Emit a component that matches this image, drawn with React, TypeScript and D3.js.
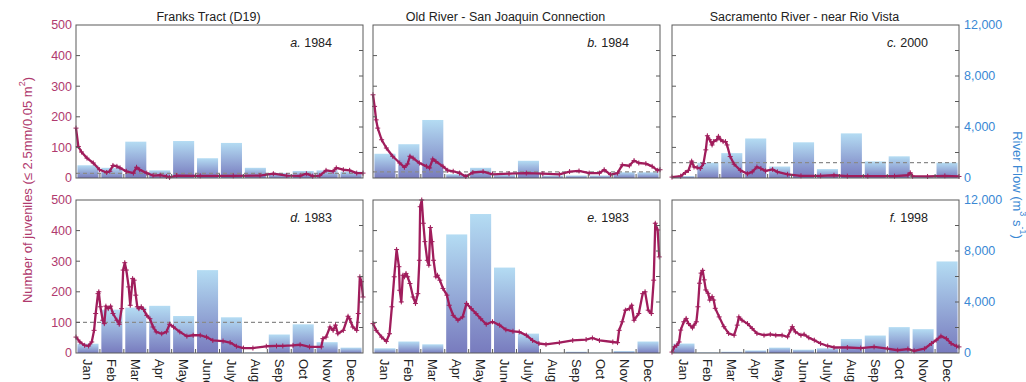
import * as d3 from 'd3';
import { useEffect, useRef } from 'react';

const months = ['Jan', 'Feb', 'Mar', 'Apr', 'May', 'June', 'July', 'Aug', 'Sept', 'Oct', 'Nov', 'Dec'];
const siteTitles = ['Franks Tract (D19)', 'Old River - San Joaquin Connection', 'Sacramento River - near Rio Vista'];
const panelLetters = ['a', 'b', 'c', 'd', 'e', 'f'];
const panelYears = ['1984', '1984', '2000', '1983', '1983', '1998'];
const juvTicks = [0, 100, 200, 300, 400, 500];
const flowTicks = [0, 4000, 8000, 12000];

// monthly river flow (m3/s)
const flowA = [1000, 800, 2850, 600, 2900, 1550, 2750, 800, 400, 550, 600, 500];
const flowB = [1900, 2650, 4550, 300, 800, 250, 1350, 200, 200, 200, 450, 450];
const flowC = [150, 1200, 1950, 3100, 900, 2800, 700, 3500, 1300, 1700, 100, 1200];
const flowD = [730, 3400, 3560, 3700, 2900, 6500, 2800, 50, 1450, 2250, 850, 420];
const flowE = [370, 900, 680, 9300, 10900, 6700, 1520, 30, 100, 30, 150, 900];
const flowF = [740, 50, 100, 200, 420, 260, 370, 1100, 1370, 2030, 1870, 7180];

// juveniles: [day of year, count]
const juvA: [number, number][] = [[0,163],[3,103],[7,85],[14,65],[22,49],[30,27],[39,18],[43,22],[47,41],[52,38],[56,33],[64,22],[73,16],[77,35],[81,27],[90,16],[98,8],[107,9],[115,5],[119,2],[128,8],[158,7],[200,7],[234,8],[251,14],[268,8],[285,7],[293,14],[301,6],[310,8],[318,25],[327,22],[331,33],[340,27],[348,25],[357,16],[365,16]];
const juvB: [number, number][] = [[0,272],[2,234],[4,190],[6,163],[11,125],[17,98],[25,71],[34,49],[40,35],[44,46],[47,71],[51,65],[59,49],[68,38],[72,33],[76,62],[80,54],[89,38],[95,25],[102,22],[110,16],[118,5],[127,18],[140,21],[152,12],[173,14],[195,16],[216,14],[237,12],[250,21],[262,23],[275,16],[288,16],[294,27],[302,11],[311,16],[317,43],[326,40],[332,57],[338,49],[347,47],[355,38],[362,25],[365,27]];
const juvC: [number, number][] = [[0,3],[11,6],[17,18],[21,25],[25,55],[28,36],[32,34],[36,31],[40,47],[43,92],[45,138],[48,125],[51,108],[53,119],[57,125],[59,136],[62,125],[65,119],[68,119],[70,108],[74,70],[79,45],[87,25],[96,14],[102,20],[108,36],[113,31],[119,23],[128,28],[134,20],[147,12],[164,7],[189,7],[206,9],[223,6],[249,6],[283,6],[300,9],[303,17],[306,6],[325,5],[347,7],[365,5]];
const juvD: [number, number][] = [[0,52],[5,36],[11,25],[16,23],[20,36],[23,74],[25,129],[28,194],[29,200],[31,151],[34,107],[36,96],[38,153],[41,145],[44,153],[47,129],[52,107],[55,94],[58,145],[60,271],[62,295],[64,271],[67,216],[69,156],[72,243],[74,238],[76,189],[78,151],[80,145],[83,151],[86,142],[90,123],[94,112],[98,85],[102,69],[109,63],[115,69],[119,94],[124,85],[132,69],[141,55],[149,58],[158,58],[166,52],[174,41],[187,39],[196,34],[204,22],[213,16],[225,16],[242,22],[255,23],[263,23],[276,25],[285,27],[297,20],[312,20],[314,47],[318,52],[323,85],[327,74],[330,91],[333,63],[340,74],[346,120],[348,112],[352,85],[357,74],[359,129],[361,249],[363,233],[365,183]];
const juvE: [number, number][] = [[0,96],[4,74],[11,52],[17,38],[21,63],[24,151],[27,249],[30,338],[33,282],[34,205],[36,167],[38,254],[40,249],[42,260],[44,249],[47,227],[51,183],[54,162],[57,194],[59,303],[60,478],[62,500],[64,424],[66,364],[69,303],[71,287],[73,410],[75,364],[77,303],[80,249],[82,254],[85,238],[89,211],[94,189],[97,156],[102,123],[108,107],[114,118],[119,162],[125,145],[131,129],[137,112],[144,94],[152,102],[161,91],[169,76],[178,71],[186,69],[195,58],[203,41],[211,31],[220,28],[237,34],[254,41],[271,44],[279,49],[288,41],[305,36],[311,34],[313,74],[317,102],[321,140],[326,145],[329,156],[332,107],[338,129],[343,194],[346,200],[350,140],[354,129],[357,238],[359,424],[362,402],[364,314]];
const juvF: [number, number][] = [[0,3],[3,20],[6,25],[9,36],[11,75],[15,102],[18,113],[21,96],[26,82],[28,91],[31,102],[33,151],[35,228],[37,261],[39,270],[41,239],[43,206],[46,195],[48,173],[51,184],[53,173],[55,146],[60,118],[66,86],[72,64],[79,58],[83,91],[85,118],[89,107],[96,96],[102,80],[108,64],[117,58],[125,61],[132,58],[140,58],[147,53],[151,75],[153,86],[157,69],[164,58],[168,61],[174,50],[181,42],[189,31],[198,23],[206,18],[223,18],[240,16],[257,20],[274,14],[287,9],[300,13],[308,7],[321,14],[330,31],[336,42],[342,55],[349,47],[355,31],[362,22],[365,20]];

// dashed reference level (juveniles), null = none
const thresholds: (number | null)[] = [15, 20, 50, 100, null, null];

const flows = [flowA, flowB, flowC, flowD, flowE, flowF];
const juvs = [juvA, juvB, juvC, juvD, juvE, juvF];

const FONT = "'Liberation Sans', Arial, Helvetica, sans-serif";
const CRIMSON = '#a01d5c';
const LABEL_RED = '#b03a6e';
const BLUE = '#3a88d4';

export default function App() {
  const ref = useRef<SVGSVGElement | null>(null);

  useEffect(() => {
    const svg = d3.select(ref.current);
    svg.selectAll('*').remove();

    const colX = [76, 373, 672];
    const rowY = [25, 200];
    const innerW = 287;
    const innerH = 153;

    const defs = svg.append('defs');
    const grad = defs.append('linearGradient').attr('id', 'barGrad').attr('x1', 0).attr('y1', 0).attr('x2', 0).attr('y2', 1);
    grad.append('stop').attr('offset', '0%').attr('stop-color', '#b4dcf3');
    grad.append('stop').attr('offset', '100%').attr('stop-color', '#787bbe');

    const x = d3.scaleLinear().domain([0, 365]).range([0, innerW]);
    const xb = d3.scaleBand<string>().domain(months).range([0, innerW]).paddingInner(0.12).paddingOuter(0.06);
    const xm = d3.scaleBand<string>().domain(months).range([0, innerW]);
    const yJ = d3.scaleLinear().domain([0, 500]).range([innerH, 0]);
    const yF = d3.scaleLinear().domain([0, 12000]).range([innerH, 0]);

    for (let i = 0; i < 6; i++) {
      const col = i % 3;
      const row = Math.floor(i / 3);
      const g = svg.append('g').attr('transform', `translate(${colX[col]},${rowY[row]})`);

      // flow bars
      g.selectAll('rect.bar')
        .data(flows[i])
        .enter()
        .append('rect')
        .attr('class', 'bar')
        .attr('x', (_, k) => xb(months[k])!)
        .attr('y', (d) => yF(d))
        .attr('width', xb.bandwidth())
        .attr('height', (d) => innerH - yF(d))
        .attr('fill', 'url(#barGrad)');

      const th = thresholds[i];
      if (th != null) {
        g.append('line')
          .attr('x1', 0).attr('x2', innerW)
          .attr('y1', yJ(th)).attr('y2', yJ(th))
          .attr('stroke', '#8a8a8a').attr('stroke-width', 1.3).attr('stroke-dasharray', '4,3');
      }

      const line = d3.line<[number, number]>().x((d) => x(d[0])).y((d) => yJ(d[1]));
      g.append('path').datum(juvs[i]).attr('d', line).attr('fill', 'none').attr('stroke', CRIMSON)
        .attr('stroke-width', 2.3).attr('stroke-linejoin', 'round');
      g.selectAll('path.mk')
        .data(juvs[i])
        .enter()
        .append('path')
        .attr('class', 'mk')
        .attr('d', (d) => `M${x(d[0]) - 2.5},${yJ(d[1])}h5M${x(d[0])},${yJ(d[1]) - 2.5}v5`)
        .attr('stroke', CRIMSON)
        .attr('stroke-width', 1);

      // frame
      g.append('rect').attr('width', innerW).attr('height', innerH).attr('fill', 'none').attr('stroke', '#5a5a5a').attr('stroke-width', 1);

      // inner ticks
      g.selectAll('line.lt').data([100, 200, 300, 400]).enter().append('line')
        .attr('x1', 0).attr('x2', 4).attr('y1', (d) => yJ(d)).attr('y2', (d) => yJ(d))
        .attr('stroke', '#5a5a5a');
      g.selectAll('line.rt').data([2000, 4000, 6000, 8000, 10000]).enter().append('line')
        .attr('x1', innerW - 4).attr('x2', innerW).attr('y1', (d) => yF(d)).attr('y2', (d) => yF(d))
        .attr('stroke', '#5a5a5a');
      g.selectAll('line.bt').data(months.slice(1)).enter().append('line')
        .attr('x1', (d) => xm(d)!).attr('x2', (d) => xm(d)!).attr('y1', innerH).attr('y2', innerH - 4)
        .attr('stroke', '#5a5a5a');

      // panel label
      const lab = g.append('text').attr('x', innerW - 31).attr('y', 22).attr('text-anchor', 'end')
        .attr('font-family', FONT).attr('font-size', 12.5).attr('fill', '#222');
      lab.append('tspan').attr('font-style', 'italic').text(`${panelLetters[i]}.`);
      lab.append('tspan').text(` ${panelYears[i]}`);

      if (row === 0) {
        g.append('text').attr('x', innerW / 2 - 11).attr('y', -4).attr('text-anchor', 'middle')
          .attr('font-family', FONT).attr('font-size', 12.5).attr('fill', '#222').text(siteTitles[col]);
      }
      if (col === 0) {
        g.selectAll('text.yl').data(juvTicks).enter().append('text')
          .attr('x', -4).attr('y', (d) => yJ(d)).attr('dy', '0.35em').attr('text-anchor', 'end')
          .attr('font-family', FONT).attr('font-size', 12.5).attr('fill', LABEL_RED)
          .text((d) => d);
      }
      if (col === 2) {
        g.selectAll('text.yr').data(flowTicks).enter().append('text')
          .attr('x', innerW + 5).attr('y', (d) => yF(d)).attr('dy', '0.35em').attr('text-anchor', 'start')
          .attr('font-family', FONT).attr('font-size', 12.5).attr('fill', BLUE)
          .text((d) => d3.format(',')(d));
      }
      if (row === 1) {
        g.selectAll('text.mo').data(months).enter().append('text')
          .attr('transform', (d) => `translate(${xm(d)! + xm.bandwidth() / 2},${innerH + 6}) rotate(90)`)
          .attr('dominant-baseline', 'central').attr('text-anchor', 'start')
          .attr('font-family', FONT).attr('font-size', 13).attr('fill', '#222')
          .text((d) => d);
      }
    }

    // axis titles
    const lt = svg.append('text').attr('transform', 'translate(27,190) rotate(-90)').attr('text-anchor', 'middle')
      .attr('dominant-baseline', 'central').attr('font-family', FONT).attr('font-size', 13).attr('fill', LABEL_RED);
    lt.append('tspan').text('Number of juveniles (≤ 2.5mm/0.05 m');
    lt.append('tspan').attr('baseline-shift', 'super').attr('font-size', 9).text('2');
    lt.append('tspan').text(')');

    const rt = svg.append('text').attr('transform', 'translate(1018,185) rotate(90)').attr('text-anchor', 'middle')
      .attr('dominant-baseline', 'central').attr('font-family', FONT).attr('font-size', 13).attr('fill', BLUE);
    rt.append('tspan').text('River Flow (m');
    rt.append('tspan').attr('baseline-shift', 'super').attr('font-size', 9).text('3');
    rt.append('tspan').text(' s');
    rt.append('tspan').attr('baseline-shift', 'super').attr('font-size', 9).text('-1');
    rt.append('tspan').text(')');
  }, []);

  return (
    <svg
      ref={ref}
      width={1026}
      height={382}
      style={{ position: 'absolute', left: 0, top: 0, background: '#fff' }}
      role="img"
      aria-label="Juveniles and river flow panels"
    />
  );
}
